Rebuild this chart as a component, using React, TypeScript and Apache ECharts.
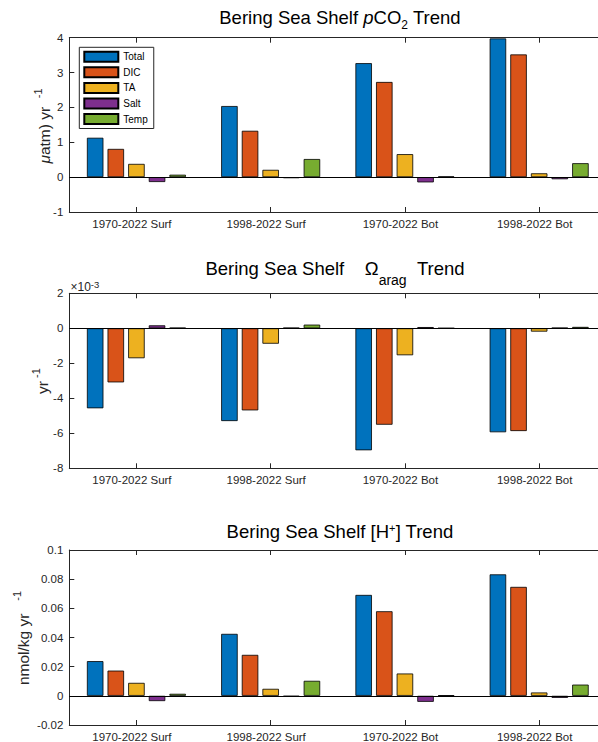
import React, { useEffect, useRef } from 'react';
import * as echarts from 'echarts';

// ---------- data ----------
const categories = ['1970-2022 Surf', '1998-2022 Surf', '1970-2022 Bot', '1998-2022 Bot'];
const seriesNames = ['Total', 'DIC', 'TA', 'Salt', 'Temp'];
const seriesColors = ['#0072BD', '#D95319', '#EDB120', '#7E2F8E', '#77AC30'];

// pCO2 trend, µatm yr^-1
const pco2Total = [1.13, 2.04, 3.27, 3.98];
const pco2DIC = [0.81, 1.33, 2.73, 3.52];
const pco2TA = [0.38, 0.21, 0.66, 0.11];
const pco2Salt = [-0.14, -0.03, -0.15, -0.06];
const pco2Temp = [0.07, 0.52, 0.02, 0.4];

// Omega_arag trend, yr^-1 (in units of 10^-3)
const omegaTotal = [-4.57, -5.3, -6.97, -5.94];
const omegaDIC = [-3.09, -4.69, -5.51, -5.87];
const omegaTA = [-1.71, -0.88, -1.54, -0.19];
const omegaSalt = [0.17, 0.03, 0.07, 0.03];
const omegaTemp = [0.03, 0.21, 0.01, 0.08];

// [H+] trend, nmol/kg yr^-1
const hTotal = [0.0238, 0.0425, 0.0692, 0.0833];
const hDIC = [0.0173, 0.0281, 0.058, 0.0747];
const hTA = [0.0089, 0.0048, 0.0153, 0.0023];
const hSalt = [-0.0036, -0.0005, -0.0041, -0.0014];
const hTemp = [0.0014, 0.0103, 0.0004, 0.0077];

const pco2Ticks = { min: -1, max: 4, interval: 1 };
const omegaTicks = { min: -8, max: 2, interval: 2 };
const hTicks = { min: -0.02, max: 0.1, interval: 0.02 };

// ---------- styles ----------
const FONT = '"Liberation Sans", Arial, Helvetica, sans-serif';
const AX = '#262626';
const NB = '\u00a0';

const panels = [
  { data: [pco2Total, pco2DIC, pco2TA, pco2Salt, pco2Temp], ticks: pco2Ticks, top: 37.7, height: 174.3 },
  { data: [omegaTotal, omegaDIC, omegaTA, omegaSalt, omegaTemp], ticks: omegaTicks, top: 293.3, height: 175 },
  { data: [hTotal, hDIC, hTA, hSalt, hTemp], ticks: hTicks, top: 550, height: 175 },
];

const GRID_LEFT = 69.3;
const GRID_WIDTH = 537;

function fmt(v: number) {
  return String(Number(v.toFixed(3)));
}

function buildOption() {
  const grid: any[] = [];
  const xAxis: any[] = [];
  const yAxis: any[] = [];
  const series: any[] = [];

  panels.forEach((p, i) => {
    grid.push({ left: GRID_LEFT, top: p.top, width: GRID_WIDTH, height: p.height, outerBoundsMode: 'none', containLabel: false });
    xAxis.push({
      type: 'category',
      gridIndex: i,
      data: categories,
      position: 'bottom',
      axisLine: { show: true, onZero: false, lineStyle: { color: AX, width: 1 } },
      axisTick: { show: true, inside: true, length: 5, alignWithLabel: true, lineStyle: { color: AX } },
      axisLabel: { show: true, interval: 0, fontSize: 11.5, color: AX, margin: 6, fontFamily: FONT, padding: [0, 9, 0, 0] },
      splitLine: { show: false },
    });
    yAxis.push({
      type: 'value',
      gridIndex: i,
      min: p.ticks.min,
      max: p.ticks.max,
      interval: p.ticks.interval,
      axisLine: { show: true, onZero: false, lineStyle: { color: AX, width: 1 } },
      axisTick: { show: true, inside: true, length: 5, lineStyle: { color: AX } },
      axisLabel: { fontSize: 11.5, color: AX, margin: 6, fontFamily: FONT, formatter: (v: number) => fmt(v) },
      splitLine: { show: false },
    });
    p.data.forEach((vals, k) => {
      const s: any = {
        type: 'bar',
        name: seriesNames[k],
        xAxisIndex: i,
        yAxisIndex: i,
        data: vals,
        barWidth: 16.5,
        barGap: '25%',
        itemStyle: { color: seriesColors[k], borderColor: '#000', borderWidth: 0.8 },
        emphasis: { disabled: true },
      };
      if (k === 0) {
        s.markLine = {
          silent: true,
          symbol: ['none', 'none'],
          label: { show: false },
          lineStyle: { color: '#000', width: 1, type: 'solid' },
          emphasis: { disabled: true },
          data: [{ yAxis: 0 }],
        };
      }
      series.push(s);
    });
  });
  // top border axes
  panels.forEach((p, i) => {
    xAxis.push({
      type: 'category',
      gridIndex: i,
      data: categories,
      position: 'top',
      axisLine: { show: true, onZero: false, lineStyle: { color: AX, width: 1 } },
      axisTick: { show: true, inside: true, length: 5, alignWithLabel: true, lineStyle: { color: AX } },
      axisLabel: { show: false },
      splitLine: { show: false },
    });
  });

  const base = { fontFamily: FONT, verticalAlign: 'top', fill: '#000', color: '#000' };
  const tMain = { ...base, fontSize: 18.5, lineHeight: 22 };
  const tIt = { ...tMain, fontStyle: 'italic' };
  const tSub2 = { ...base, fontSize: 12, lineHeight: 12, padding: [10.5, 0, 0, 0] };
  const tArag = { ...base, fontSize: 14, lineHeight: 14, padding: [13.5, 0, 0, 0] };
  const tPlus = { ...base, fontSize: 11, lineHeight: 17 };
  const titleRich = { m: tMain, pi: tIt, s: tSub2, a: tArag, sp: tPlus };

  const lb = { fontSize: 15.5, fontFamily: FONT, lineHeight: 20, verticalAlign: 'bottom', fill: AX, color: AX };
  const lit = { ...lb, fontStyle: 'italic' };
  const lsup = { fontSize: 11, fontFamily: FONT, lineHeight: 12, verticalAlign: 'top', fill: AX, color: AX };
  const labelRich = { b: lb, it: lit, sup: lsup };

  const graphic: any[] = [
    {
      type: 'text', x: 340, y: 8.4,
      style: { text: '{m|Bering Sea Shelf }{pi|p}{m|CO}{s|2}{m| Trend}', rich: titleRich, align: 'center', verticalAlign: 'top' },
    },
    {
      type: 'text', x: 335, y: 259.4,
      style: { text: `{m|Bering Sea Shelf${NB}${NB}${NB}${NB}Ω}{a|arag}{m|${NB}${NB}Trend}`, rich: titleRich, align: 'center', verticalAlign: 'top' },
    },
    {
      type: 'text', x: 340, y: 522,
      style: { text: '{m|Bering Sea Shelf [H}{sp|+}{m|] Trend}', rich: titleRich, align: 'center', verticalAlign: 'top' },
    },
    {
      type: 'text', x: 42, y: 126, rotation: Math.PI / 2,
      style: { text: `{it|μ}{b|atm) yr${NB}${NB}}{sup|-1}`, rich: labelRich, align: 'center', verticalAlign: 'middle' },
    },
    {
      type: 'text', x: 40, y: 381, rotation: Math.PI / 2,
      style: { text: `{b|yr}{sup|${NB}-1}`, rich: labelRich, align: 'center', verticalAlign: 'middle' },
    },
    {
      type: 'text', x: 21.5, y: 638, rotation: Math.PI / 2,
      style: { text: `{b|nmol/kg yr${NB}${NB}${NB}}{sup|-1}`, rich: labelRich, align: 'center', verticalAlign: 'middle' },
    },
    {
      type: 'text', x: 70.5, y: 286,
      style: {
        text: '{b|×10}{s|-3}',
        rich: {
          b: { fontSize: 12, fontFamily: FONT, lineHeight: 14, verticalAlign: 'bottom', fill: AX, color: AX },
          s: { fontSize: 9.5, fontFamily: FONT, lineHeight: 10, verticalAlign: 'top', fill: AX, color: AX },
        },
        align: 'left',
        verticalAlign: 'middle',
      },
    },
  ];

  return {
    animation: false,
    backgroundColor: '#fff',
    textStyle: { fontFamily: FONT },
    legend: {
      data: seriesNames,
      orient: 'vertical',
      left: 79.3,
      top: 47.3,
      itemWidth: 34,
      itemHeight: 10,
      itemGap: 3.6,
      padding: [3.4, 6, 3.4, 4],
      backgroundColor: '#fff',
      borderColor: AX,
      borderWidth: 1,
      borderRadius: 0,
      icon: 'rect',
      selectedMode: false,
      textStyle: { fontSize: 10, color: '#000', fontFamily: FONT },
    },
    grid,
    xAxis,
    yAxis,
    series,
    graphic,
  };
}

export default function App() {
  const ref = useRef<HTMLDivElement>(null);
  useEffect(() => {
    if (!ref.current) return;
    const chart = echarts.init(ref.current, null, { renderer: 'svg' });
    chart.setOption(buildOption() as any);
    return () => chart.dispose();
  }, []);
  return (
    <div
      ref={ref}
      style={{ position: 'absolute', left: 0, top: 0, width: 598, height: 742, background: '#fff' }}
    />
  );
}
